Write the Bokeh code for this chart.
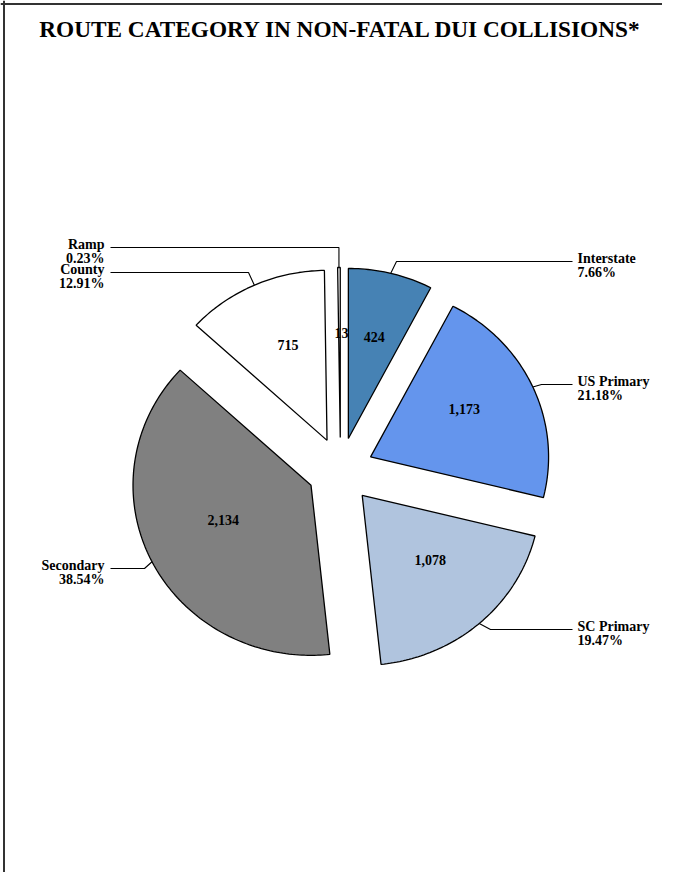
import numpy as np
from bokeh.plotting import figure
from bokeh.models import ColumnDataSource, Range1d, Span
from bokeh.core.properties import value
from bokeh.embed import file_html
from bokeh.resources import INLINE

# ---------------- data ----------------
categories = ["Interstate", "US Primary", "SC Primary", "Secondary", "County", "Ramp"]
counts = [424, 1173, 1078, 2134, 715, 13]
colors = ["#4682B4", "#6495ED", "#B0C4DE", "#808080", "#FFFFFF", "#FFFFFF"]
title_text = "ROUTE CATEGORY IN NON-FATAL DUI COLLISIONS*"

# ---------------- layout (screen pixels) ----------------
W, H = 662, 872
CX, CY = 340.0, 470.0      # pie centre
RX, RY = 178.0, 170.0      # pie radii
EXPLODE = 33.0             # explosion distance
VAL_FRAC = 0.565
VAL_SHIFT = (2.0, -8.0)
FONT = "Liberation Serif"

out_label_x = [577, 577, 577, 104, 104, 104]
out_line_y = [261, 384, 629, 568, 272, 247]
out_side = ["left", "left", "left", "right", "right", "right"]
elbow_x = [396, 541, 490, 144, 248, None]

# ---------------- geometry from data ----------------
vals = np.array(counts, dtype=float)
total = vals.sum()
cum = np.concatenate([[0.0], np.cumsum(vals)]) / total
starts = cum[:-1] * 2 * np.pi
ends = cum[1:] * 2 * np.pi
mids = (starts + ends) / 2

xs, ys = [], []
apexes = []
for a0, a1, am in zip(starts, ends, mids):
    ax = CX + EXPLODE * np.sin(am)
    ay = CY - EXPLODE * np.cos(am)
    apexes.append((ax, ay))
    n = max(4, int(np.degrees(a1 - a0)))
    t = np.linspace(a0, a1, n)
    px = [ax] + list(ax + RX * np.sin(t)) + [ax]
    py = [ay] + list(ay - RY * np.cos(t)) + [ay]
    xs.append(px)
    ys.append(py)

p = figure(width=W, height=H, output_backend="svg", toolbar_location=None,
           x_range=Range1d(0, W), y_range=Range1d(H, 0),
           min_border=0, outline_line_color=None)
p.axis.visible = False
p.grid.visible = False
p.background_fill_color = "white"

p.patches(xs, ys, fill_color=colors, line_color="black", line_width=1.3)

# value labels
vx, vy, vt = [], [], []
for (ax, ay), am, v in zip(apexes, mids, counts):
    vx.append(ax + VAL_FRAC * RX * np.sin(am) + VAL_SHIFT[0])
    vy.append(ay - VAL_FRAC * RY * np.cos(am) + VAL_SHIFT[1])
    vt.append(f"{v:,}")
p.text(x=vx, y=vy, text=vt, text_font=value(FONT), text_font_style="bold",
       text_font_size="14px", text_align="center", text_baseline="middle",
       text_color="black")

# leader lines and outer labels
lxs, lys = [], []
for i, ((ax, ay), am) in enumerate(zip(apexes, mids)):
    anc_x = ax + RX * np.sin(am)
    anc_y = ay - RY * np.cos(am)
    ly = out_line_y[i]
    ex = elbow_x[i] if elbow_x[i] is not None else anc_x
    end_x = out_label_x[i] - 5 if out_side[i] == "left" else out_label_x[i] + 6
    lxs.append([anc_x, ex, end_x])
    lys.append([anc_y, ly, ly])
p.multi_line(lxs, lys, line_color="black", line_width=1.1)

pct = [f"{v / total * 100:.2f}%" for v in counts]
for side in ["left", "right"]:
    idx = [i for i in range(len(categories)) if out_side[i] == side]
    src = ColumnDataSource(dict(
        x=[out_label_x[i] for i in idx],
        y1=[out_line_y[i] - 3 for i in idx],
        y2=[out_line_y[i] + 10.5 for i in idx],
        name=[categories[i] for i in idx],
        pct=[pct[i] for i in idx]))
    for ycol, tcol in (("y1", "name"), ("y2", "pct")):
        p.text(x="x", y=ycol, text=tcol, source=src, text_font=value(FONT),
               text_font_style="bold", text_font_size="14px",
               text_align=side, text_baseline="alphabetic", text_color="black")

# title
p.text(x=[340], y=[28], text=[title_text], text_font=value(FONT),
       text_font_style="bold", text_font_size="23.3px", text_align="center",
       text_baseline="alphabetic", text_color="black")

# page frame
p.add_layout(Span(location=3.5, dimension="height", line_color="#333333", line_width=2))
p.add_layout(Span(location=3.5, dimension="width", line_color="#333333", line_width=2))

open("out.html", "w").write(file_html(p, INLINE))
